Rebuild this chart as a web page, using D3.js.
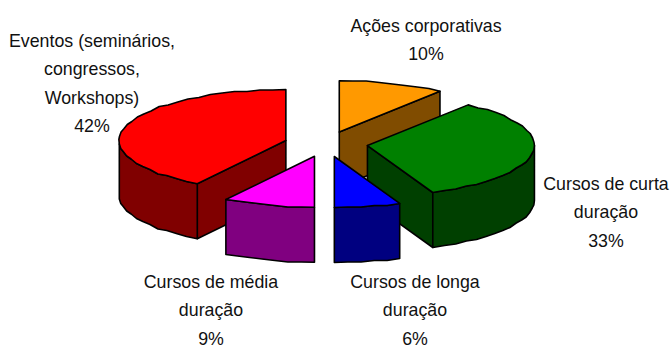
<!DOCTYPE html>
<html><head><meta charset="utf-8">
<script src="https://cdn.jsdelivr.net/npm/d3@7/dist/d3.min.js"></script>
<style>html,body{margin:0;padding:0;background:#fff}svg{display:block}
text{font-family:"Liberation Sans",Arial,sans-serif;font-size:17.8px;fill:#111;text-anchor:middle}</style>
</head><body><svg id="c" width="670" height="345"></svg>
<script>
const categories = ["Ações corporativas","Cursos de curta duração","Cursos de longa duração","Cursos de média duração","Eventos (seminários, congressos, Workshops)"];
const shareValues = [10.3, 33.3, 6.4, 8.9, 41.1];
const percentLabels = ["10%","33%","6%","9%","42%"];
const topColors = ["#FF9900","#008000","#0000FF","#FF00FF","#FF0000"];
const sideColors = ["#804C00","#004000","#000080","#800080","#800000"];
const labelLines = [["Ações corporativas","10%"],["Cursos de curta","duração","33%"],["Cursos de longa","duração","6%"],["Cursos de média","duração","9%"],["Eventos (seminários,","congressos,","Workshops)","42%"]];
const labelAnchors = [[426,26],[606,184],[415,282],[211,282],[92,41]];
const drawOrder = [0,4,1,3,2];

const svg = d3.select("#c");
const cx=326, cy=144, Rx=167, Ry=51, depth=55, explode=0.25, lineGap=28.4;
const sx = d3.scaleLinear().domain([-1,1]).range([-Rx,Rx]);
const sy = d3.scaleLinear().domain([-1,1]).range([Ry,-Ry]);
const arcs = d3.pie().sort(null).value(d=>d).startAngle(0).endAngle(2*Math.PI)(shareValues);
const line = d3.line().curve(d3.curveLinear);
const snap = v => Math.round(v/1.5)*1.5;

drawOrder.forEach(i=>{
  const a = arcs[i], mid=(a.startAngle+a.endAngle)/2;
  const ax = cx+sx(explode*Math.sin(mid)), ay = cy+sy(explode*Math.cos(mid));
  const P = t => [ax+sx(Math.sin(t)), ay+sy(Math.cos(t))];
  const n = Math.max(2,Math.round((a.endAngle-a.startAngle)/(Math.PI/40)));
  const rim = d3.range(n+1).map(k=>a.startAngle+(a.endAngle-a.startAngle)*k/n);
  const rimPts = rim.map((t,k)=>{const p=P(t);return (k===0||k===n)?p:[p[0],snap(p[1])];});
  const down = p=>[p[0],p[1]+depth];
  const g = svg.append("g").attr("stroke","#000").attr("stroke-width",1.6).attr("stroke-linejoin","round");
  const apex=[ax,ay];
  const face = pts => g.append("path").attr("d",line(pts)+"Z").attr("fill",sideColors[i]);
  // radial faces: visible when travelling leftward round the clockwise outline
  if (rimPts[0][0] < ax-0.5) face([apex,rimPts[0],down(rimPts[0]),down(apex)]);
  if (rimPts[n][0] > ax+0.5) face([rimPts[n],apex,down(apex),down(rimPts[n])]);
  // outer wall: the rim stretch between 90deg and 270deg
  const front = rimPts.filter((p,k)=>rim[k]>=Math.PI/2-1e-6 && rim[k]<=1.5*Math.PI+1e-6);
  if (front.length>1) face(front.concat(front.slice().reverse().map(down)));
  g.append("path").attr("d",line([apex].concat(rimPts))+"Z").attr("fill",topColors[i]);
});

labelLines.forEach((lines,i)=>{
  const t = svg.append("text");
  lines.forEach((s,k)=>t.append("tspan").attr("x",labelAnchors[i][0]).attr("y",labelAnchors[i][1]+6+k*lineGap).text(s));
});
</script></body></html>
